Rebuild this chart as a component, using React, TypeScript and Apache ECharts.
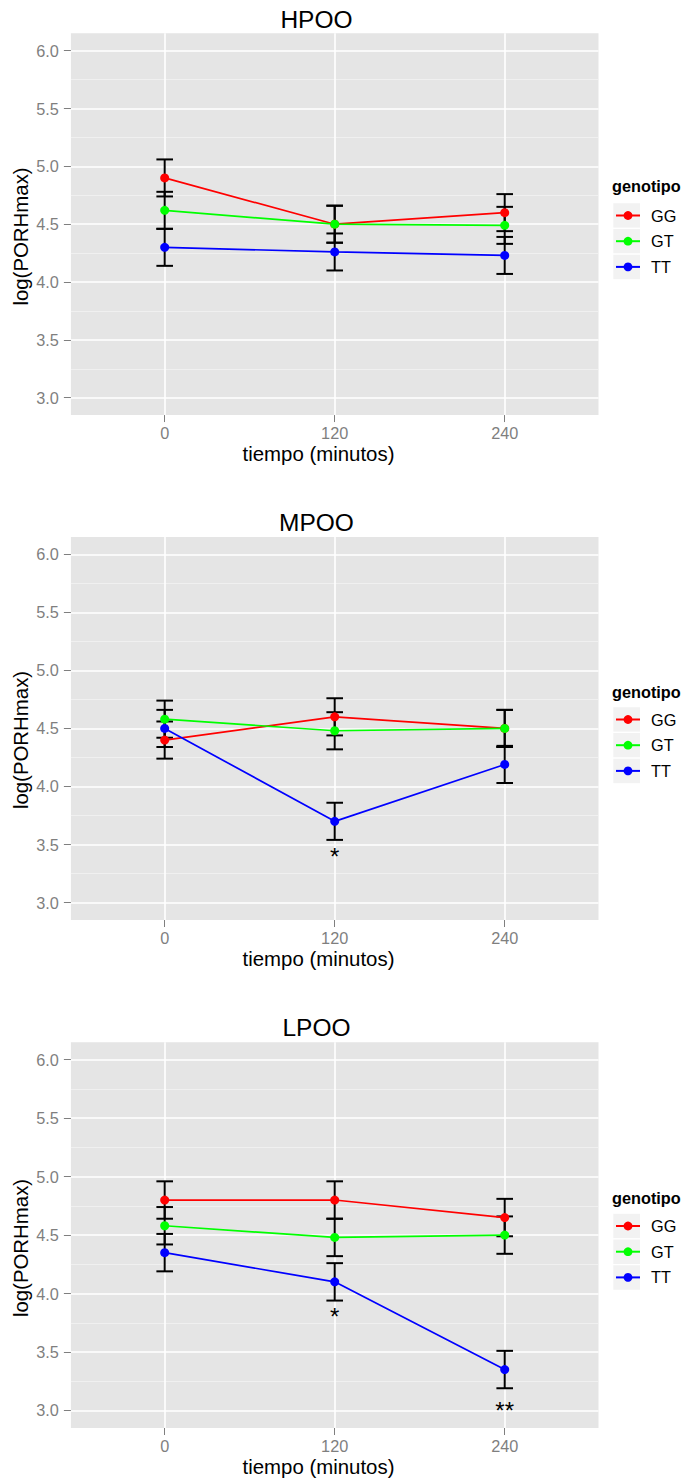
import React, { useEffect, useRef } from 'react';
import * as echarts from 'echarts';

// ---------------- data ----------------
const times = [0, 120, 240];
const genotypes = ['GG', 'GT', 'TT'];
const genoColors = ['#FF0000', '#00FF00', '#0000FF'];
const panelTitles = ['HPOO', 'MPOO', 'LPOO'];

const hpooGG = [4.9, 4.5, 4.6];
const hpooGT = [4.62, 4.5, 4.49];
const hpooTT = [4.3, 4.26, 4.23];
const hpooSE = [0.16, 0.16, 0.16];

const mpooGG = [4.4, 4.6, 4.5];
const mpooGT = [4.58, 4.48, 4.5];
const mpooTT = [4.5, 3.7, 4.19];
const mpooSE = [0.16, 0.16, 0.16];

const lpooGG = [4.8, 4.8, 4.65];
const lpooGT = [4.58, 4.48, 4.5];
const lpooTT = [4.35, 4.1, 3.35];
const lpooSE = [0.16, 0.16, 0.16];

const hpooStarX: number[] = [];
const hpooStarY: number[] = [];
const hpooStarText: string[] = [];
const mpooStarX = [120];
const mpooStarY = [3.4];
const mpooStarText = ['*'];
const lpooStarX = [120, 240];
const lpooStarY = [3.8, 3.0];
const lpooStarText = ['*', '**'];

const yTicks = [3.0, 3.5, 4.0, 4.5, 5.0, 5.5, 6.0];
const yMinorTicks = [3.25, 3.75, 4.25, 4.75, 5.25, 5.75];
const xTicks = [0, 120, 240];

const xTitle = 'tiempo (minutos)';
const yTitle = 'log(PORHmax)';
const legendTitle = 'genotipo';

// ---------------- layout / style ----------------
const FONT = "'Liberation Sans', Arial, Helvetica, sans-serif";
const Y_MIN = 2.85;
const Y_MAX = 6.15;
const X_MIN = -66.2;
const X_MAX = 306.2;
const GRID_LEFT = 70.9;
const GRID_WIDTH = 527.6;
const panelTops = [33.35, 536.9, 1042.2];
const panelHeights = [381.7, 383.1, 385.8];
const titleYs = [19, 522.5, 1027];
const xTitleYs = [453.5, 959, 1466.5];
const yTitleYs = [236.5, 740, 1248];
const legendTitleYs = [186, 692, 1198];
const legendFirstYs = [215.5, 719.5, 1226];
const LEGEND_STEP = 25.7;
const LEGEND_TEXT_H = 17;

const panels = [
  { values: [hpooGG, hpooGT, hpooTT], se: hpooSE, starX: hpooStarX, starY: hpooStarY, starText: hpooStarText },
  { values: [mpooGG, mpooGT, mpooTT], se: mpooSE, starX: mpooStarX, starY: mpooStarY, starText: mpooStarText },
  { values: [lpooGG, lpooGT, lpooTT], se: lpooSE, starX: lpooStarX, starY: lpooStarY, starText: lpooStarText },
];

function buildOption() {
  const grid: any[] = [];
  const xAxis: any[] = [];
  const yAxis: any[] = [];
  const series: any[] = [];
  const legend: any[] = [];
  const graphic: any[] = [];

  panels.forEach((p, i) => {
    grid.push({
      left: GRID_LEFT,
      top: panelTops[i],
      width: GRID_WIDTH,
      height: panelHeights[i],
      show: true,
      backgroundColor: '#E5E5E5',
      borderWidth: 0,
      containLabel: false,
      outerBoundsMode: 'none',
    });
    xAxis.push({
      type: 'value',
      gridIndex: i,
      min: X_MIN,
      max: X_MAX,
      position: 'bottom',
      axisLine: { show: false, onZero: false },
      axisTick: { show: true, customValues: xTicks, length: 7, lineStyle: { color: '#7F7F7F', width: 1 } },
      axisLabel: {
        show: true,
        customValues: xTicks,
        color: '#7F7F7F',
        fontSize: 16.3,
        fontFamily: FONT,
        margin: 10,
      },
      splitLine: { show: true, lineStyle: { color: '#FFFFFF', width: 1.6 } },
    });
    // major y axis
    yAxis.push({
      type: 'value',
      gridIndex: i,
      min: Y_MIN,
      max: Y_MAX,
      position: 'left',
      axisLine: { show: false, onZero: false },
      axisTick: { show: true, customValues: yTicks, length: 7, lineStyle: { color: '#7F7F7F', width: 1 } },
      axisLabel: {
        show: true,
        customValues: yTicks,
        color: '#7F7F7F',
        fontSize: 16.3,
        fontFamily: FONT,
        margin: 12,
        formatter: (v: number) => v.toFixed(1),
      },
      splitLine: { show: true, lineStyle: { color: '#FFFFFF', width: 1.6 } },
    });
    // minor grid y axis
    yAxis.push({
      type: 'value',
      gridIndex: i,
      min: Y_MIN,
      max: Y_MAX,
      position: 'left',
      axisLine: { show: false, onZero: false },
      axisTick: { show: false, customValues: yMinorTicks },
      axisLabel: { show: false, customValues: yMinorTicks },
      splitLine: { show: true, lineStyle: { color: '#F2F2F2', width: 0.8 } },
    });

    // error bars
    const ebData: number[][] = [];
    p.values.forEach((vals) => {
      vals.forEach((v, k) => {
        ebData.push([times[k], v - p.se[k], v + p.se[k]]);
      });
    });
    series.push({
      type: 'custom',
      name: 'errorbar',
      xAxisIndex: i,
      yAxisIndex: i * 2,
      data: ebData,
      encode: { x: 0, y: [1, 2] },
      silent: true,
      renderItem: (params: any, api: any) => {
        const x = api.value(0);
        const lo = api.coord([x, api.value(1)]);
        const hi = api.coord([x, api.value(2)]);
        const w = 8.3;
        const style = { stroke: '#000000', lineWidth: 2 };
        return {
          type: 'group',
          children: [
            { type: 'line', shape: { x1: lo[0], y1: lo[1], x2: hi[0], y2: hi[1] }, style },
            { type: 'line', shape: { x1: lo[0] - w, y1: lo[1], x2: lo[0] + w, y2: lo[1] }, style },
            { type: 'line', shape: { x1: hi[0] - w, y1: hi[1], x2: hi[0] + w, y2: hi[1] }, style },
          ],
        };
      },
    });

    // lines + points
    p.values.forEach((vals, g) => {
      series.push({
        type: 'line',
        name: genotypes[g],
        xAxisIndex: i,
        yAxisIndex: i * 2,
        data: vals.map((v, k) => [times[k], v]),
        symbol: 'circle',
        symbolSize: 9,
        showSymbol: true,
        lineStyle: { color: genoColors[g], width: 1.7 },
        itemStyle: { color: genoColors[g] },
        emphasis: { disabled: true },
        silent: true,
      });
    });

    // significance annotations
    if (p.starX.length) {
      const texts = p.starText;
      series.push({
        type: 'custom',
        name: 'signif',
        xAxisIndex: i,
        yAxisIndex: i * 2,
        data: p.starX.map((x, k) => [x, p.starY[k]]),
        silent: true,
        renderItem: (params: any, api: any) => {
          const pt = api.coord([api.value(0), api.value(1)]);
          return {
            type: 'text',
            x: pt[0],
            y: pt[1],
            style: {
              text: texts[params.dataIndex],
              fontSize: 24,
              fontFamily: FONT,
              fill: '#000000',
              align: 'center',
              verticalAlign: 'middle',
            },
          };
        },
      });
    }

    // legend
    legend.push({
      orient: 'vertical',
      left: 615,
      top: legendFirstYs[i] - LEGEND_TEXT_H / 2,
      padding: 0,
      itemWidth: 24,
      itemHeight: 11,
      itemGap: LEGEND_STEP - LEGEND_TEXT_H,
      selectedMode: false,
      data: genotypes,
      textStyle: {
        fontSize: 16.3,
        fontFamily: FONT,
        color: '#000000',
        lineHeight: LEGEND_TEXT_H,
        padding: [0, 0, 0, 6],
      },
    });

    // legend key boxes
    genotypes.forEach((_, g) => {
      graphic.push({
        type: 'rect',
        z: 0,
        shape: {
          x: 612.7,
          y: legendFirstYs[i] + g * LEGEND_STEP - LEGEND_STEP / 2,
          width: 28,
          height: LEGEND_STEP,
        },
        style: { fill: '#F2F2F2', stroke: '#FFFFFF', lineWidth: 1.2 },
        silent: true,
      });
    });

    // texts
    graphic.push({
      type: 'text',
      x: 316.5,
      y: titleYs[i],
      style: { text: panelTitles[i], fontSize: 24.5, fontFamily: FONT, fill: '#000', align: 'center', verticalAlign: 'middle' },
    });
    graphic.push({
      type: 'text',
      x: 318.5,
      y: xTitleYs[i],
      style: { text: xTitle, fontSize: 20.4, fontFamily: FONT, fill: '#000', align: 'center', verticalAlign: 'middle' },
    });
    graphic.push({
      type: 'text',
      x: 21.2,
      y: yTitleYs[i],
      rotation: Math.PI / 2,
      style: { text: yTitle, fontSize: 20.4, fontFamily: FONT, fill: '#000', align: 'center', verticalAlign: 'middle' },
    });
    graphic.push({
      type: 'text',
      x: 612,
      y: legendTitleYs[i],
      style: { text: legendTitle, fontSize: 16.3, fontWeight: 'bold', fontFamily: FONT, fill: '#000', align: 'left', verticalAlign: 'middle' },
    });
  });

  return {
    animation: false,
    backgroundColor: '#FFFFFF',
    grid,
    xAxis,
    yAxis,
    legend,
    series,
    graphic,
    tooltip: { show: false },
  };
}

export default function App() {
  const ref = useRef<HTMLDivElement>(null);
  useEffect(() => {
    if (!ref.current) return;
    const chart = echarts.init(ref.current, undefined, { renderer: 'svg' });
    chart.setOption(buildOption() as any);
    return () => chart.dispose();
  }, []);
  return (
    <div
      ref={ref}
      style={{ position: 'absolute', left: 0, top: 0, width: 686, height: 1481 }}
    />
  );
}
